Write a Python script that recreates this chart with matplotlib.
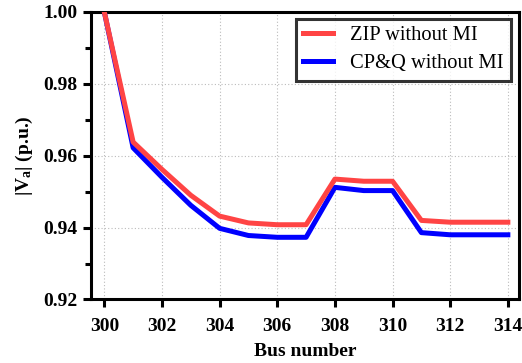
import matplotlib.pyplot as plt
import numpy as np
from matplotlib.ticker import MultipleLocator

plt.rcParams["font.family"] = ["Liberation Serif", "DejaVu Serif"]
plt.rcParams["mathtext.fontset"] = "custom"
plt.rcParams["mathtext.rm"] = "Liberation Serif:bold"
plt.rcParams["mathtext.it"] = "Liberation Serif:bold"
plt.rcParams["mathtext.bf"] = "Liberation Serif:bold"

bus = np.arange(300, 315)
zip_no_mi = [1.000, 0.9638, 0.9562, 0.9490, 0.9432, 0.9413, 0.9408, 0.9408,
             0.9535, 0.9529, 0.9529, 0.9420, 0.9415, 0.9415, 0.9415]
cpq_no_mi = [1.000, 0.9622, 0.9540, 0.9462, 0.9398, 0.9378, 0.9373, 0.9373,
             0.9512, 0.9503, 0.9503, 0.9386, 0.9380, 0.9380, 0.9380]

fig = plt.figure(figsize=(5.22, 3.63), dpi=100)
ax = fig.add_axes([0.175, 0.175, 0.82, 0.792])

ax.plot(bus, cpq_no_mi, color="#0000ff", lw=3.6, label="CP&Q without MI", zorder=3)
ax.plot(bus, zip_no_mi, color="#ff4444", lw=3.6, label="ZIP without MI", zorder=4)

ax.set_xlim(299.55, 314.4)
ax.set_ylim(0.92, 1.00)
ax.xaxis.set_major_locator(MultipleLocator(2))
ax.yaxis.set_major_locator(MultipleLocator(0.02))
ax.yaxis.set_minor_locator(MultipleLocator(0.01))
ax.yaxis.set_major_formatter(plt.FormatStrFormatter("%.2f"))

ax.grid(True, which="major", color="#bbbbbb", linestyle=(0, (1, 2)), lw=0.8)
ax.set_axisbelow(True)
for s in ax.spines.values():
    s.set_linewidth(2.2)
ax.tick_params(which="major", direction="out", length=6, width=2.2,
               labelsize=14, pad=4)
ax.tick_params(which="minor", direction="out", length=4, width=2.2)
ax.tick_params(axis="x", which="major", pad=7)
for lab in ax.get_xticklabels() + ax.get_yticklabels():
    lab.set_fontweight("bold")

ax.set_xlabel("Bus number", fontsize=14, fontweight="bold", labelpad=6)
ax.set_ylabel(r"|V$_\mathregular{a}$| (p.u.)", fontsize=14, fontweight="bold", labelpad=6)

handles, labels = ax.get_legend_handles_labels()
leg = ax.legend(handles[::-1], labels[::-1], loc="upper right",
                bbox_to_anchor=(0.981, 0.976), borderaxespad=0,
                fontsize=14.8, frameon=True, fancybox=False,
                edgecolor="black", handlelength=1.45, borderpad=0.35,
                labelspacing=0.42, handletextpad=0.85)
leg.get_frame().set_linewidth(2.2)

fig.savefig("out.png", dpi=100)
